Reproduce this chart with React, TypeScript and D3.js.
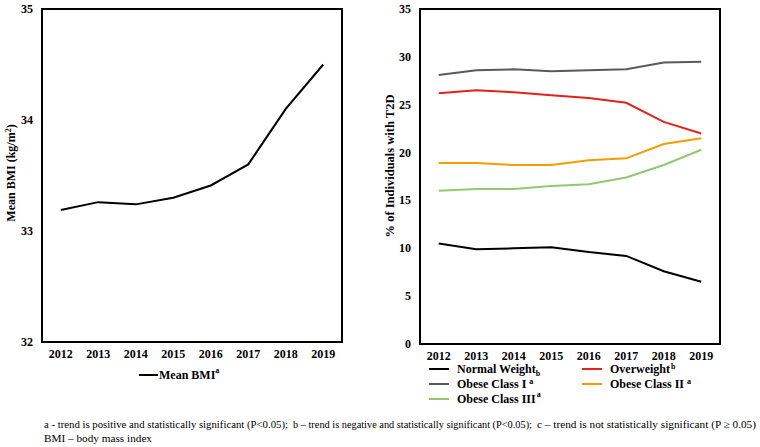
import React from "react";
import * as d3 from "d3";

const years = ["2012", "2013", "2014", "2015", "2016", "2017", "2018", "2019"];
const meanBmi = [33.19, 33.26, 33.24, 33.3, 33.41, 33.6, 34.1, 34.5];
const bmiTicks = [32, 33, 34, 35];
const pctTicks = [0, 5, 10, 15, 20, 25, 30, 35];

const normalWeight = [10.5, 9.9, 10.0, 10.1, 9.6, 9.2, 7.6, 6.5];
const overweight = [26.2, 26.5, 26.3, 26.0, 25.7, 25.2, 23.2, 22.0];
const obeseI = [28.1, 28.6, 28.7, 28.5, 28.6, 28.7, 29.4, 29.5];
const obeseII = [18.9, 18.9, 18.7, 18.7, 19.2, 19.4, 20.9, 21.5];
const obeseIII = [16.0, 16.2, 16.2, 16.5, 16.7, 17.4, 18.7, 20.3];

const seriesNames = ["Normal Weight", "Overweight", "Obese Class I", "Obese Class II", "Obese Class III"];
const seriesMarks = ["b", "b", "a", "a", "a"];
const seriesData = [normalWeight, overweight, obeseI, obeseII, obeseIII];
const seriesColors = ["#000000", "#e3231a", "#5a5a5a", "#f59c00", "#92c970"];

const footnoteParts = [
  "a - trend is positive  and statistically  significant  (P<0.05);",
  "b \u2013 trend is negative  and statistically  significant  (P<0.05);",
  "c \u2013 trend is not statistically  significant  (P \u2265 0.05)",
];
const footnote2 = "BMI \u2013 body mass index";

const FONT = "Liberation Serif, Times New Roman, DejaVu Serif, serif";

export default function App() {
  const xL = d3.scalePoint<string>().domain(years).range([42, 342]).padding(0.5);
  const yL = d3.scaleLinear().domain([32, 35]).range([342, 9]);
  const xR = d3.scalePoint<string>().domain(years).range([420, 720]).padding(0.5);
  const yR = d3.scaleLinear().domain([0, 35]).range([344, 9]);

  const lineL = d3
    .line<number>()
    .x((_, i) => xL(years[i]) as number)
    .y((d) => yL(d));
  const lineR = d3
    .line<number>()
    .x((_, i) => xR(years[i]) as number)
    .y((d) => yR(d));

  const legendPos = [
    { lx: 429, tx: 457, y: 369 },
    { lx: 582, tx: 610, y: 369 },
    { lx: 429, tx: 457, y: 384 },
    { lx: 582, tx: 610, y: 384 },
    { lx: 429, tx: 457, y: 399 },
  ];

  const footPos = [
    { x: 44, w: 244 },
    { x: 293, w: 239 },
    { x: 537, w: 219 },
  ];

  const ts: React.CSSProperties = { fontFamily: FONT };

  return (
    <svg width={760} height={447} style={{ position: "absolute", left: 0, top: 0, background: "#fff", fontFamily: FONT }}>
      <rect x={0} y={0} width={760} height={447} fill="#fff" />
      {/* Left chart */}
      <rect x={42} y={9} width={300} height={333} fill="none" stroke="#000" strokeWidth={2} />
      {bmiTicks.map((t) => (
        <text key={t} x={33} y={yL(t) + 4} textAnchor="end" fontSize={12} fontWeight="bold" style={ts}>
          {t}
        </text>
      ))}
      {years.map((yr) => (
        <text key={yr} x={xL(yr)} y={358} textAnchor="middle" fontSize={12} fontWeight="bold" style={ts}>
          {yr}
        </text>
      ))}
      <path d={lineL(meanBmi) || ""} fill="none" stroke="#000" strokeWidth={2} />
      <text transform="translate(15,173) rotate(-90)" textAnchor="middle" fontSize={12} fontWeight="bold" style={ts}>
        Mean BMI (kg/m<tspan dy={-4} fontSize={8}>2</tspan>
        <tspan dy={4}>)</tspan>
      </text>
      <line x1={139} x2={158} y1={375} y2={375} stroke="#000" strokeWidth={2} />
      <text x={159} y={379} fontSize={12} fontWeight="bold" style={ts}>
        Mean BMI<tspan dy={-6} fontSize={8}>a</tspan>
      </text>

      {/* Right chart */}
      <rect x={420} y={9} width={300} height={335} fill="none" stroke="#000" strokeWidth={2} />
      {pctTicks.map((t) => (
        <text key={t} x={411} y={yR(t) + 4} textAnchor="end" fontSize={12} fontWeight="bold" style={ts}>
          {t}
        </text>
      ))}
      {years.map((yr) => (
        <text key={yr} x={xR(yr)} y={360} textAnchor="middle" fontSize={12} fontWeight="bold" style={ts}>
          {yr}
        </text>
      ))}
      {seriesData.map((s, i) => (
        <path key={i} d={lineR(s) || ""} fill="none" stroke={seriesColors[i]} strokeWidth={2} />
      ))}
      <text transform="translate(394,166) rotate(-90)" textAnchor="middle" fontSize={12.5} fontWeight="bold" style={ts}>
        % of Individuals with T2D
      </text>
      {seriesNames.map((n, i) => {
        const p = legendPos[i];
        const sub = i === 0;
        return (
          <g key={n}>
            <line x1={p.lx} x2={p.lx + 20} y1={p.y} y2={p.y} stroke={seriesColors[i]} strokeWidth={2} />
            <text x={p.tx} y={p.y + 4} fontSize={12} fontWeight="bold" style={ts}>
              {n}
              {sub ? (
                <tspan dy={3} fontSize={8}>
                  {seriesMarks[i]}
                </tspan>
              ) : (
                <tspan dx={i === 1 ? 1 : i === 4 ? 1 : 3} dy={i === 4 ? -6 : -4} fontSize={8}>
                  {seriesMarks[i]}
                </tspan>
              )}
            </text>
          </g>
        );
      })}

      {/* Footnote */}
      {footnoteParts.map((f, i) => (
        <text
          key={i}
          x={footPos[i].x}
          y={428}
          fontSize={11}
          textLength={footPos[i].w}
          lengthAdjust="spacingAndGlyphs"
          style={ts}
        >
          {f}
        </text>
      ))}
      <text x={44} y={442} fontSize={11} textLength={108} lengthAdjust="spacingAndGlyphs" style={ts}>
        {footnote2}
      </text>
    </svg>
  );
}
